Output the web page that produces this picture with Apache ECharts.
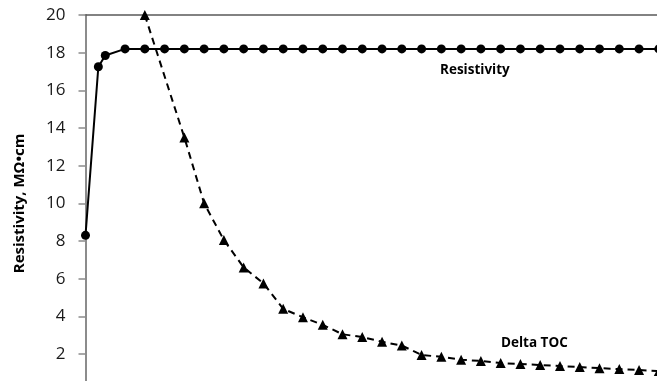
<!DOCTYPE html>
<html>
<head>
<meta charset="utf-8">
<script src="https://cdn.jsdelivr.net/npm/echarts@6/dist/echarts.min.js"></script>
<style>
html,body{margin:0;padding:0;background:#fff;}
#chart{width:657px;height:381px;}
</style>
</head>
<body>
<div id="chart"></div>
<script>
// Data (x in sample units, y in MΩ•cm scale)
var resistivityX = [0, 0.65, 1, 2, 3, 4, 5, 6, 7, 8, 9, 10, 11, 12, 13, 14, 15, 16, 17, 18, 19, 20, 21, 22, 23, 24, 25, 26, 27, 28, 29];
var resistivityY = [8.3, 17.25, 17.85, 18.2, 18.2, 18.2, 18.2, 18.2, 18.2, 18.2, 18.2, 18.2, 18.2, 18.2, 18.2, 18.2, 18.2, 18.2, 18.2, 18.2, 18.2, 18.2, 18.2, 18.2, 18.2, 18.2, 18.2, 18.2, 18.2, 18.2, 18.2];
var tocX = [3, 5, 6, 7, 8, 9, 10, 11, 12, 13, 14, 15, 16, 17, 18, 19, 20, 21, 22, 23, 24, 25, 26, 27, 28, 29];
var tocY = [20.0, 13.5, 10.0, 8.05, 6.6, 5.75, 4.4, 3.95, 3.55, 3.05, 2.9, 2.65, 2.45, 1.95, 1.85, 1.7, 1.63, 1.52, 1.47, 1.42, 1.36, 1.31, 1.25, 1.2, 1.15, 1.1];
var yTicks = [2, 4, 6, 8, 10, 12, 14, 16, 18, 20];
var yAxisName = 'Resistivity, MΩ•cm';
var seriesNames = ['Resistivity', 'Delta TOC'];

function pairs(xs, ys) { return xs.map(function (x, i) { return [x, ys[i]]; }); }

var chart = echarts.init(document.getElementById('chart'), null, { renderer: 'canvas' });
chart.setOption({
  animation: false,
  backgroundColor: '#ffffff',
  grid: { left: 85.5, top: 15, width: 593.1, height: 376.7, containLabel: false, outerBoundsMode: 'none' },
  xAxis: {
    type: 'value', position: 'top', min: 0, max: 30,
    axisLine: { show: true, onZero: false, lineStyle: { color: '#595959', width: 1.5 } },
    axisTick: { show: false }, axisLabel: { show: false }, splitLine: { show: false }
  },
  yAxis: {
    type: 'value', min: 0, max: 20, interval: 2,
    name: yAxisName, nameLocation: 'middle', nameGap: 58, nameRotate: 90,
    nameTextStyle: { fontFamily: 'Open Sans', fontWeight: 'bold', fontSize: 15, color: '#000' },
    axisLine: { show: true, lineStyle: { color: '#8c8c8c', width: 2 } },
    axisTick: { show: true, length: 7, lineStyle: { color: '#8c8c8c', width: 1.5 } },
    axisLabel: {
      margin: 20, fontFamily: 'Open Sans', fontSize: 17, color: '#1a1a1a',
      formatter: function (v) { return yTicks.indexOf(v) >= 0 ? String(v) : ''; }
    },
    splitLine: { show: false }
  },
  series: [
    {
      name: seriesNames[0], type: 'line', data: pairs(resistivityX, resistivityY),
      symbol: 'circle', symbolSize: 9, clip: false,
      lineStyle: { color: '#000', width: 2 }, itemStyle: { color: '#000' }
    },
    {
      name: seriesNames[1], type: 'line', data: pairs(tocX, tocY),
      symbol: 'triangle', symbolSize: 10, clip: false,
      lineStyle: { color: '#000', width: 2, type: [7, 5] }, itemStyle: { color: '#000' }
    }
  ],
  graphic: [
    { type: 'text', left: 440, top: 63, style: { text: seriesNames[0], font: 'bold 13.5px "Open Sans"', fill: '#000' } },
    { type: 'text', left: 501, top: 336, style: { text: seriesNames[1], font: 'bold 13.5px "Open Sans"', fill: '#000' } }
  ]
});
</script>
</body>
</html>
